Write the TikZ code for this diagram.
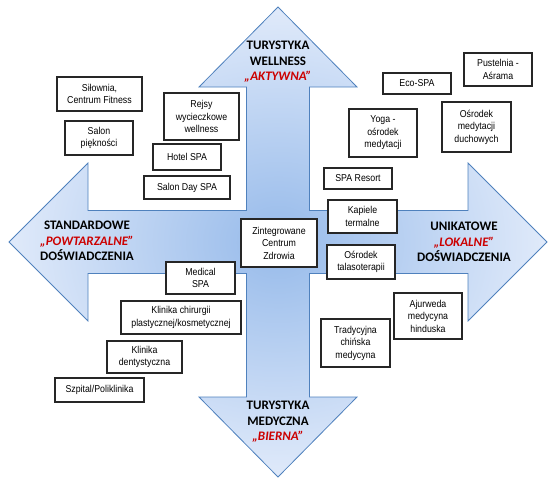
\documentclass[tikz,border=0pt]{standalone}
\usepackage{fontspec}
\setmainfont{Liberation Sans}[FakeStretch=0.88]
\newfontfamily\labelfont{Carlito}
\usepackage{tikz}
\usetikzlibrary{shapes,arrows,positioning}

\definecolor{crossedge}{RGB}{79,129,189}
\definecolor{crossin}{RGB}{150,186,234}
\definecolor{crossout}{RGB}{224,234,250}
\definecolor{quotered}{RGB}{204,0,0}
\newcommand{\redq}[1]{\textcolor{quotered}{\itshape „#1”}}

\begin{document}
\begin{tikzpicture}[x=1pt,y=-1pt,semithick]
                \tikzstyle{offer}=[draw=black!85,line width=1.1pt,fill=white,align=center,inner sep=1pt,font=\fontsize{10}{12.5}\selectfont]
                \tikzstyle{axis label}=[align=center,font=\labelfont\bfseries\fontsize{13}{15.5}\selectfont]

                \useasboundingbox (0,0) rectangle (558,482);

                % the cross of four arrows
                \path[draw=crossedge,line width=0.8pt,inner color=crossin,outer color=crossout]
                  (278,7) -- (357,87) -- (309.5,87) -- (309.5,210.5) -- (468,210.5) -- (468,163)
                  -- (547,242) -- (468,321) -- (468,273.5) -- (309.5,273.5) -- (309.5,397) -- (357,397)
                  -- (278,477) -- (199,397) -- (246.5,397) -- (246.5,273.5) -- (88,273.5) -- (88,321)
                  -- (9,242) -- (88,163) -- (88,210.5) -- (246.5,210.5) -- (246.5,87) -- (199,87) -- cycle;

                \node[axis label] at (278,62) (wellness) {TURYSTYKA\\WELLNESS\\\redq{AKTYWNA}};
                \node[axis label] at (87,241) (standard) {STANDARDOWE\\\redq{POWTARZALNE}\\DOŚWIADCZENIA};
                \node[axis label] at (464,242) (unique) {UNIKATOWE\\\redq{LOKALNE}\\DOŚWIADCZENIA};
                \node[axis label] at (278,422) (medical) {TURYSTYKA\\MEDYCZNA\\\redq{BIERNA}};

                % standard wellness
                \node[offer,minimum width=85pt,minimum height=34pt] at (99.5,94) (silownia) {Siłownia,\\Centrum Fitness};
                \node[offer,minimum width=68pt,minimum height=34pt] at (99,138) (salon) {Salon\\piękności};
                \node[offer,minimum width=75pt,minimum height=47pt] at (201.5,116.5) (rejsy) {Rejsy\\wycieczkowe\\wellness};
                \node[offer,minimum width=68pt,minimum height=26pt] at (187,157) (hotel) {Hotel SPA};
                \node[offer,minimum width=86pt,minimum height=23pt] at (187,187.5) (dayspa) {Salon Day SPA};

                % unique wellness
                \node[offer,minimum width=68pt,minimum height=33pt] at (498,69.5) (pustelnia) {Pustelnia -\\Aśrama};
                \node[offer,minimum width=68pt,minimum height=21pt] at (417,83.5) (ecospa) {Eco-SPA};
                \node[offer,minimum width=68pt,minimum height=48pt] at (383,133) (yoga) {Yoga -\\ośrodek\\medytacji};
                \node[offer,minimum width=69pt,minimum height=50pt] at (476.5,127) (duchowy) {Ośrodek\\medytacji\\duchowych};
                \node[offer,minimum width=68pt,minimum height=21pt] at (358,178.5) (resort) {SPA Resort};
                \node[offer,minimum width=69pt,minimum height=33pt] at (362.5,216.5) (kapiele) {Kapiele\\termalne};

                % centre
                \node[offer,minimum width=76pt,minimum height=48pt] at (279,243) (centrum) {Zintegrowane\\Centrum\\Zdrowia};

                % unique medical
                \node[offer,minimum width=68pt,minimum height=34pt] at (361,262) (talaso) {Ośrodek\\talasoterapii};
                \node[offer,minimum width=68pt,minimum height=46pt] at (428,316) (ajurweda) {Ajurweda\\medycyna\\hinduska};
                \node[offer,minimum width=69pt,minimum height=48pt] at (355.5,343) (chinska) {Tradycyjna\\chińska\\medycyna};

                % standard medical
                \node[offer,minimum width=69pt,minimum height=32pt] at (200.5,278) (medspa) {Medical\\SPA};
                \node[offer,minimum width=120pt,minimum height=33pt] at (181,317.5) (chirurgia) {Klinika chirurgii\\plastycznej/kosmetycznej};
                \node[offer,minimum width=75pt,minimum height=32pt] at (144.5,357) (dentysta) {Klinika\\dentystyczna};
                \node[offer,minimum width=89pt,minimum height=24pt] at (99.5,390) (szpital) {Szpital/Poliklinika};
\end{tikzpicture}
\end{document}
